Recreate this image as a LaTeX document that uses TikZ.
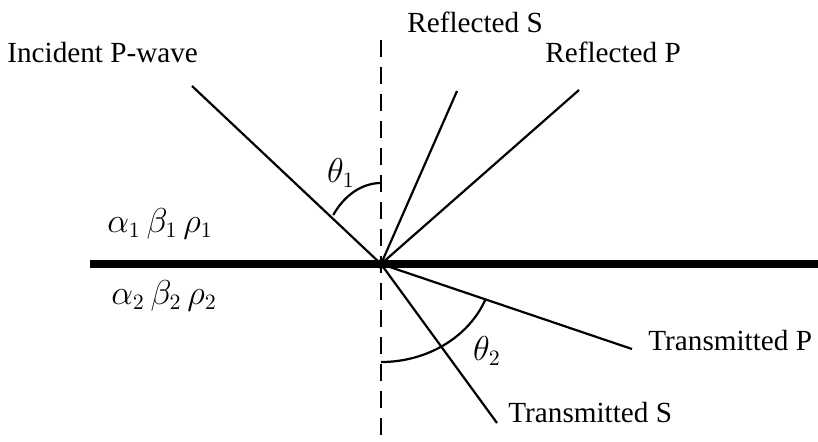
\documentclass[tikz,border=0pt]{standalone}
\usepackage{fontspec}
\setmainfont{Liberation Serif}
\begin{document}
\begin{tikzpicture}[x=0.5pt, y=-0.5pt,
  ray/.style={line width=1.1pt},
  lbl/.style={font=\fontsize{14.6}{18}\selectfont, inner sep=0pt},
  med/.style={font=\fontsize{16}{18}\selectfont, inner sep=0pt}]
  \useasboundingbox (0,0) rectangle (818,441);
  % incidence point and ray ends (pixel grid, y downwards)
  \coordinate (O) at (381,264);
  \coordinate (inc) at (192,86);
  \coordinate (rS) at (457,91);
  \coordinate (rP) at (579,90);
  \coordinate (tP) at (632,349);
  \coordinate (tS) at (497,423);
  \coordinate (ntop) at (381,40);
  \coordinate (nbot) at (381,441);
  \coordinate (ileft) at (90,264);
  \coordinate (iright) at (818,264);
  % normal and interface
  \draw[line width=1.4pt, dash pattern=on 8.5pt off 5pt] (ntop) -- (nbot);
  \draw[line width=4pt] (ileft) -- (iright);
  % rays
  \foreach \e in {inc,rS,rP,tP,tS}
    \draw[ray] (O) -- (\e);
  \fill (O) circle (5);
  % angles
  \draw[ray] (381,183) arc[start angle=-90, end angle=-142.8, x radius=60, y radius=81];
  \draw[ray] (381,362) arc[start angle=90, end angle=21.2, x radius=112, y radius=98];
  \node[med] (th1) at (341,173) {$\theta_1$};
  \node[med] (th2) at (487,351) {$\theta_2$};
  % media
  \node[med] (up) at (160,224) {$\alpha_1\,\beta_1\,\rho_1$};
  \node[med] (low) at (164,296) {$\alpha_2\,\beta_2\,\rho_2$};
  % ray labels
  \node[lbl, anchor=base west] (linc) at (7,62) {Incident P-wave};
  \node[lbl, anchor=base west] (lrS) at (407,32) {Reflected S};
  \node[lbl, anchor=base west] (lrP) at (545,62) {Reflected P};
  \node[lbl, anchor=base west] (ltP) at (648,350) {Transmitted P};
  \node[lbl, anchor=base west] (ltS) at (508,422) {Transmitted S};
\end{tikzpicture}
\end{document}
